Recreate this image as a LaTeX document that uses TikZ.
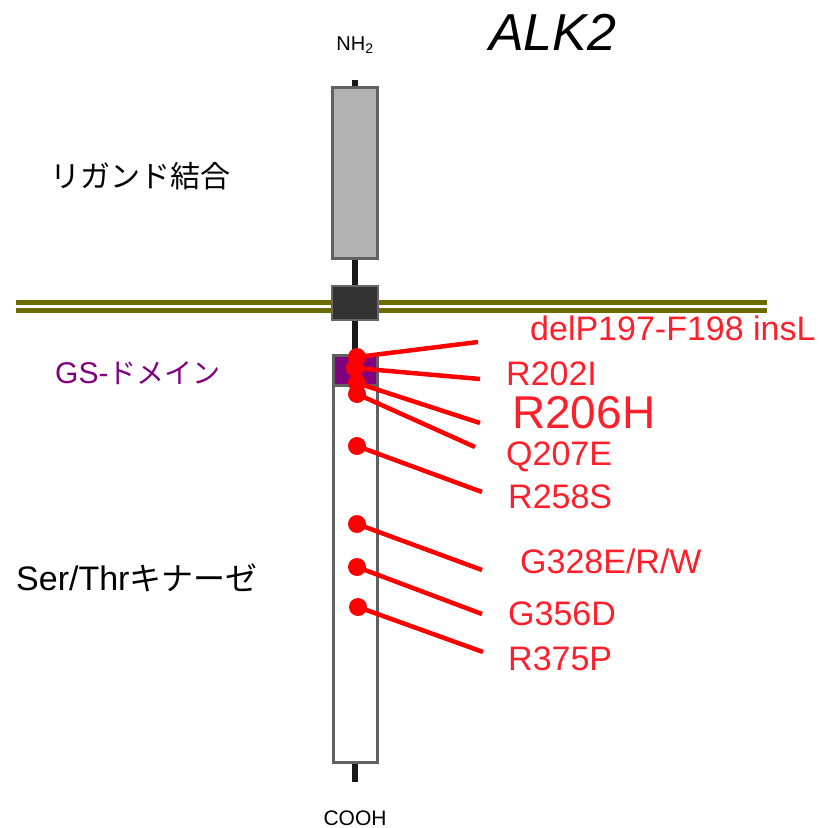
\documentclass[tikz,border=0pt]{standalone}
\usepackage{fontspec}
\setmainfont{Liberation Sans}
\newfontfamily\jp{Noto Sans CJK JP}
\definecolor{olivem}{HTML}{6B6B00}
\definecolor{mutred}{HTML}{FF0000}
\definecolor{labred}{HTML}{FF1F2A}
\definecolor{gsp}{HTML}{800080}
\begin{document}
\begin{tikzpicture}[x=1pt,y=-1pt,
  mut/.style={circle,fill=mutred,inner sep=0pt,minimum size=18pt},
  mline/.style={draw=mutred,line width=4.5pt},
  lab/.style={anchor=base west,inner sep=0pt,text=labred,font=\fontsize{34}{36}\selectfont},
  domlab/.style={anchor=west,inner sep=0pt,font=\jp\fontsize{30}{34}\selectfont},
  membr/.style={draw=olivem,line width=5pt},
  boxgray/.style={draw=black!62,line width=3pt}]
\useasboundingbox (0,0) rectangle (821,828);
% membrane
\draw[membr] (16,302.5) -- (767,302.5);
\draw[membr] (16,310) -- (767,310);
% spine
\coordinate (sptop) at (355,80);
\coordinate (spbot) at (355,782);
\draw[line width=6pt,black!90] (sptop) -- (spbot);
% domains
\node[boxgray,fill=black!30,minimum width=45pt,minimum height=171pt,inner sep=0pt] (lig) at (354.5,172.5) {};
\node[draw=black!60,line width=2pt,fill=black!80,minimum width=46pt,minimum height=34pt,inner sep=0pt] (tm) at (355,303) {};
\node[boxgray,fill=white,minimum width=44pt,minimum height=407pt,inner sep=0pt] (kin) at (355,558.5) {};
\node[boxgray,fill=gsp,minimum width=44pt,minimum height=30pt,inner sep=0pt] (gs) at (355,370) {};
% terminal labels
\node[anchor=base,inner sep=0pt,font=\fontsize{20}{22}\selectfont] (nh) at (355,50) {NH\textsubscript{2}};
\node[anchor=base,inner sep=0pt,font=\fontsize{21}{23}\selectfont] (cooh) at (355,825) {COOH};
\node[anchor=base west,inner sep=0pt,font=\itshape\fontsize{52}{56}\selectfont] (title) at (489,50) {ALK2};
% domain labels
\node[domlab] (ligl) at (50,176) {リガンド結合};
\node[domlab,text=gsp,font=\jp\fontsize{28}{32}\selectfont] (gsl) at (55,373) {{\fontspec{Liberation Sans}\fontsize{30}{32}\selectfont GS-}ドメイン};
\node[domlab,font=\fontsize{34}{36}\selectfont] (kinl) at (16,578) {Ser/Thr{\jp\fontsize{32}{36}\selectfont キナーゼ}};
% mutations
\node[mut] (d1) at (357,357) {};
\node[mut] (d2) at (355,368) {};
\node[mut] (d3) at (357,383) {};
\node[mut] (d4) at (357,394) {};
\node[mut] (d5) at (357,446) {};
\node[mut] (d6) at (357,524) {};
\node[mut] (d7) at (357,567) {};
\node[mut] (d8) at (358,607) {};
\coordinate (e1) at (478,342);
\coordinate (e2) at (480,379);
\coordinate (e3) at (480,423);
\coordinate (e4) at (475,447);
\coordinate (e5) at (482,492);
\coordinate (e6) at (482,570);
\coordinate (e7) at (482,614);
\coordinate (e8) at (483,652);
\foreach \i in {1,...,8} {\draw[mline] (d\i.center) -- (e\i);}
\node[lab] (l1) at (530,340) {delP197-F198 insL};
\node[lab] (l2) at (506,385) {R202I};
\node[lab,font=\fontsize{46}{48}\selectfont] (l3) at (512,428) {R206H};
\node[lab] (l4) at (506,465) {Q207E};
\node[lab] (l5) at (508,508) {R258S};
\node[lab] (l6) at (520,573) {G328E/R/W};
\node[lab] (l7) at (508,625) {G356D};
\node[lab] (l8) at (508,670) {R375P};
\end{tikzpicture}
\end{document}
